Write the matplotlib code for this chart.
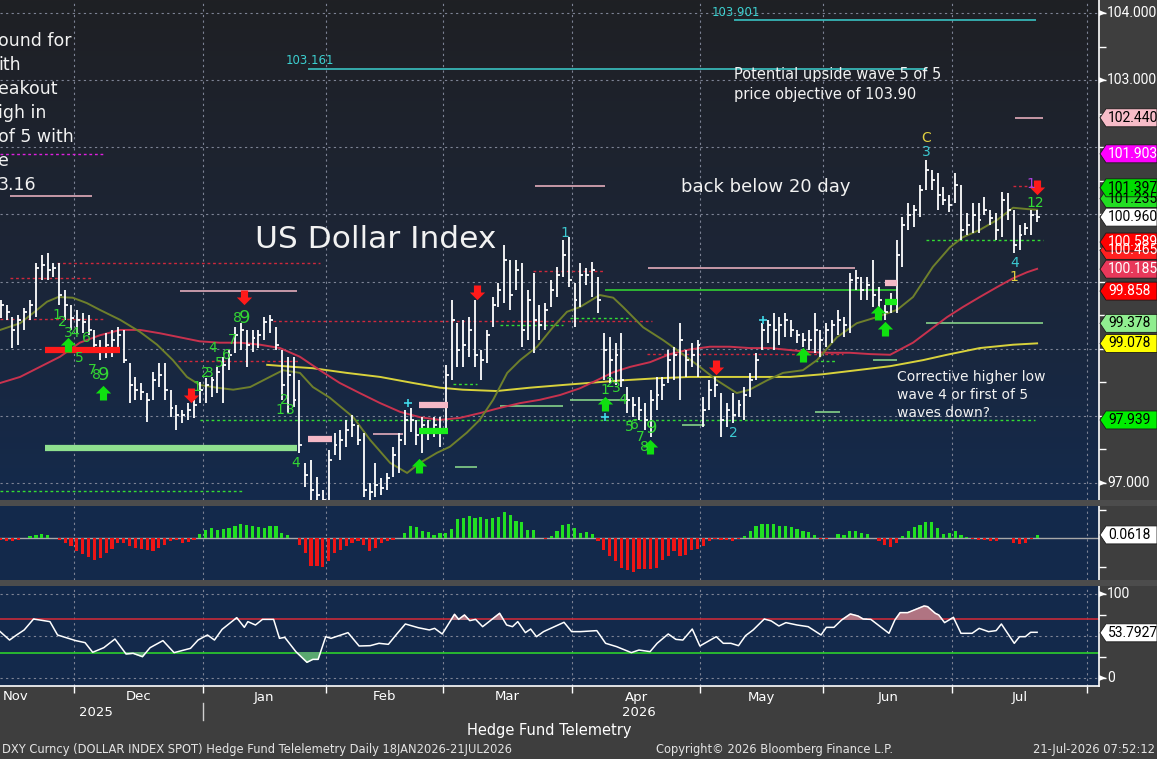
import numpy as np
import pandas as pd
import matplotlib
matplotlib.use('Agg')
import matplotlib.pyplot as plt
from matplotlib.patches import Polygon, Rectangle
from matplotlib.path import Path
from matplotlib.colors import LinearSegmentedColormap
from matplotlib.transforms import blended_transform_factory

plt.rcParams['font.family'] = ['DejaVu Sans']
NUM_FONT = ['Roboto', 'DejaVu Sans']   # narrower digits for the scale flags

# ---------------- data ----------------
holidays = ['2025-12-25', '2026-01-01']

# daily bars 12 Nov 2025 .. 21 Jul 2026 (one row per month in the source layout)
high = [99.73, 99.65, 99.47, 99.50, 99.61, 99.73, 100.28, 100.40, 100.43, 100.28, 100.28, 99.87, 99.65,
        99.58, 99.53, 99.50, 99.28, 99.13, 99.23, 99.28, 99.32, 99.28, 98.79, 98.58, 98.49, 98.34, 98.65, 98.79, 98.79, 98.39, 98.16, 98.09, 98.19, 98.24, 98.50,
        98.56, 98.58, 98.73, 98.88, 98.98, 99.32, 99.38, 99.28, 99.28, 99.28, 99.47, 99.50, 99.32, 98.98, 98.88, 98.88, 98.53, 97.30, 97.34, 97.09, 96.90,
        97.49, 97.75, 97.79, 97.94, 98.01, 97.86, 97.75, 97.00, 97.30, 97.07, 97.15, 97.54, 97.75, 98.09, 98.12, 97.94, 97.98, 97.94, 97.98, 97.98,
        98.76, 99.73, 99.38, 99.43, 99.47, 99.73, 98.98, 99.28, 99.77, 99.98, 100.55, 100.32, 100.32, 100.28, 99.87, 100.13, 99.65, 99.68, 100.02, 100.22, 100.62, 100.66,
        99.98, 100.28, 100.20, 100.29, 100.07, 99.23, 99.17, 99.09, 99.23, 98.43, 98.28, 98.28, 98.19, 98.39, 98.58, 98.58, 98.98, 99.03, 99.38, 98.98, 99.09, 99.13,
        98.28, 98.53, 98.58, 98.34, 98.19, 98.34, 98.24, 98.43, 98.64, 98.94, 99.38, 99.43, 99.53, 99.47, 99.53, 99.43, 99.28, 99.23, 99.28, 99.53, 99.28,
        99.38, 99.43, 99.58, 99.47, 100.13, 100.17, 100.07, 100.07, 100.32, 99.92, 99.65, 99.83, 100.62, 100.96, 101.17, 101.14, 101.44, 101.81, 101.66, 101.62, 101.41, 101.29,
        101.62, 101.44, 101.02, 101.17, 101.17, 101.26, 101.07, 101.02, 101.33, 101.32, 101.07, 100.84, 100.87, 101.07, 101.07]
low = [99.46, 99.43, 99.01, 99.06, 99.28, 99.43, 99.47, 100.02, 100.02, 100.07, 99.65, 99.43, 99.28,
       99.23, 99.23, 99.20, 98.94, 98.83, 98.86, 98.88, 98.95, 98.79, 98.19, 98.24, 98.24, 97.91, 98.24, 98.43, 98.24, 97.98, 97.79, 97.89, 97.94, 97.97, 98.19,
       98.19, 98.28, 98.34, 98.19, 98.68, 98.94, 98.98, 98.73, 98.95, 99.01, 99.13, 99.23, 98.98, 98.24, 98.04, 98.13, 97.45, 96.94, 96.75, 96.72, 96.67,
       96.75, 97.42, 97.34, 97.54, 97.69, 97.57, 96.79, 96.75, 96.79, 96.82, 96.90, 97.09, 97.15, 97.57, 97.76, 97.57, 97.45, 97.64, 97.69, 97.54,
       97.75, 98.53, 98.73, 98.73, 98.88, 98.73, 98.53, 98.79, 99.32, 99.62, 99.68, 99.58, 99.87, 99.03, 99.13, 98.94, 99.13, 99.28, 99.62, 99.77, 100.07, 99.92,
       99.32, 99.62, 99.95, 99.77, 99.53, 98.53, 98.49, 98.46, 98.43, 98.04, 97.98, 97.94, 97.79, 97.69, 98.09, 98.24, 98.49, 98.53, 98.24, 98.58, 98.73, 98.58,
       97.83, 98.09, 98.28, 97.69, 97.83, 97.89, 97.98, 97.94, 98.28, 98.53, 98.98, 99.09, 98.98, 99.06, 99.17, 99.17, 99.09, 99.03, 98.98, 98.94, 98.88,
       99.03, 99.09, 99.20, 99.17, 99.23, 99.87, 99.73, 99.73, 99.62, 99.53, 99.43, 99.53, 99.53, 100.22, 100.77, 100.81, 100.96, 101.36, 101.36, 101.07, 101.14, 101.04,
       101.17, 100.62, 100.69, 100.72, 100.72, 100.99, 100.84, 100.62, 100.66, 100.92, 100.43, 100.47, 100.69, 100.69, 100.89]
close = [99.65, 99.55, 99.28, 99.43, 99.55, 99.65, 100.20, 100.25, 100.17, 100.20, 99.80, 99.65, 99.46,
         99.43, 99.40, 99.28, 99.06, 98.98, 99.06, 99.13, 99.20, 98.83, 98.46, 98.39, 98.36, 98.24, 98.53, 98.61, 98.39, 98.12, 98.01, 98.01, 98.09, 98.16, 98.39,
         98.46, 98.53, 98.65, 98.76, 98.91, 99.20, 99.28, 99.06, 99.16, 99.20, 99.40, 99.43, 99.06, 98.46, 98.61, 98.24, 97.57, 97.12, 96.90, 96.82, 96.75,
         97.34, 97.57, 97.64, 97.79, 97.86, 97.64, 96.90, 96.87, 96.97, 96.93, 97.07, 97.42, 97.64, 97.94, 97.94, 97.72, 97.86, 97.76, 97.86, 97.79,
         98.61, 99.43, 98.98, 99.06, 99.28, 98.91, 98.83, 99.20, 99.65, 99.87, 100.32, 99.80, 100.17, 99.28, 99.73, 99.43, 99.35, 99.58, 99.87, 100.10, 100.40, 100.02,
         99.73, 100.10, 100.10, 100.17, 99.73, 98.98, 98.83, 98.91, 98.53, 98.24, 98.16, 98.09, 97.94, 98.24, 98.31, 98.46, 98.83, 98.91, 99.13, 98.83, 98.91, 99.06,
         98.09, 98.39, 98.46, 97.94, 98.09, 98.01, 98.16, 98.31, 98.53, 98.83, 99.28, 99.35, 99.28, 99.35, 99.43, 99.28, 99.20, 99.13, 99.13, 99.28, 99.13,
         99.28, 99.35, 99.43, 99.35, 100.02, 100.05, 99.87, 99.95, 99.80, 99.73, 99.55, 99.73, 100.40, 100.84, 100.99, 101.07, 101.36, 101.66, 101.51, 101.29, 101.22, 101.14,
         101.44, 100.77, 100.84, 100.99, 100.92, 101.07, 100.95, 100.77, 101.22, 101.07, 100.55, 100.69, 100.80, 100.99, 100.96]

macd_hist = [-0.04, -0.06, -0.06, -0.04, 0.0, 0.04, 0.06, 0.08, 0.06, 0.0, -0.04, -0.10, -0.16,
             -0.26, -0.32, -0.38, -0.44, -0.40, -0.30, -0.22, -0.10, -0.10, -0.16, -0.20, -0.22, -0.24, -0.26, -0.20, -0.14, -0.06, -0.04, -0.10, -0.08, -0.04, 0.08,
             0.16, 0.20, 0.16, 0.18, 0.20, 0.24, 0.28, 0.26, 0.24, 0.22, 0.20, 0.24, 0.24, 0.10, 0.06, 0.0, -0.14, -0.30, -0.56, -0.56, -0.58,
             -0.46, -0.30, -0.24, -0.16, -0.10, -0.06, -0.14, -0.26, -0.20, -0.10, -0.06, -0.04, 0.0, 0.10, 0.24, 0.22, 0.14, 0.12, 0.06, 0.10,
             0.10, 0.18, 0.38, 0.40, 0.44, 0.40, 0.42, 0.38, 0.40, 0.42, 0.52, 0.46, 0.34, 0.32, 0.16, 0.16, 0.0, -0.02, 0.04, 0.14, 0.26, 0.28,
             0.20, 0.10, 0.12, 0.08, -0.06, -0.24, -0.36, -0.46, -0.60, -0.64, -0.68, -0.62, -0.62, -0.62, -0.60, -0.44, -0.36, -0.26, -0.36, -0.34, -0.24, -0.22,
             -0.16, -0.06, -0.02, -0.04, -0.04, -0.06, -0.02, 0.04, 0.14, 0.24, 0.28, 0.28, 0.28, 0.24, 0.24, 0.22, 0.18, 0.14, 0.12, 0.06, -0.02,
             -0.02, 0.0, 0.08, 0.06, 0.14, 0.14, 0.10, 0.08, 0.0, -0.06, -0.14, -0.18, -0.10, 0.04, 0.14, 0.22, 0.26, 0.32, 0.32, 0.20, 0.08, 0.10,
             0.14, 0.06, 0.02, -0.02, -0.04, -0.04, -0.06, -0.06, 0.0, 0.0, -0.10, -0.12, -0.10, -0.02, 0.06]

# moving averages, read as points (x = trading-day number, 1 Dec 2025 = 0)
ma20_x = [-13.1, -9.7, -7.5, -5.1, -3.2, -0.7, 1.7, 3.9, 7.4, 10.8, 13.7, 16.4, 18.8, 21.0, 23.9, 26.7, 29.6, 32.5, 35.2, 38.1,
          40.3, 43.2, 47.2, 50.1, 53.5, 56.4, 58.6, 61.5, 63.7, 66.6, 68.8, 71.1, 73.5, 75.7, 78.6, 81.3, 83.7, 85.9, 89.3, 91.6,
          93.3, 96.7, 100.1, 103.0, 106.4, 109.3, 112.7, 114.9, 117.9, 120.6, 124.0, 126.4, 129.8, 133.2, 136.6, 140.1, 142.8, 146.2,
          149.1, 151.3, 154.2, 157.2, 159.9, 162.3, 164.0]
ma20_v = [99.28, 99.38, 99.53, 99.70, 99.77, 99.76, 99.68, 99.58, 99.43, 99.25, 99.06, 98.83, 98.58, 98.46, 98.42, 98.39, 98.43, 98.56, 98.68, 98.64,
          98.43, 98.27, 97.98, 97.64, 97.30, 97.15, 97.30, 97.45, 97.54, 97.75, 97.94, 98.24, 98.64, 98.83, 99.03, 99.32, 99.55, 99.62, 99.80, 99.76,
          99.62, 99.32, 99.13, 98.95, 98.73, 98.53, 98.34, 98.39, 98.53, 98.64, 98.68, 98.83, 99.17, 99.38, 99.47, 99.58, 99.77, 100.22,
          100.51, 100.66, 100.77, 100.92, 101.10, 101.08, 101.07]
ma50_x = [-13.1, -9.7, -6.3, -2.9, 0.5, 3.9, 7.4, 10.8, 14.2, 17.6, 21.0, 24.4, 27.9, 31.3, 34.7, 38.1, 41.5, 44.9, 48.3, 51.8,
          55.2, 58.6, 62.0, 65.4, 68.8, 72.3, 75.7, 79.1, 82.5, 85.9, 88.8, 91.6, 94.5, 97.9, 101.3, 104.7, 108.1, 111.5, 114.9, 118.4,
          121.8, 125.2, 128.6, 132.0, 135.5, 138.9, 142.8, 145.7, 148.6, 151.3, 154.2, 157.2, 159.9, 162.3, 164.0]
ma50_v = [98.49, 98.58, 98.73, 98.88, 99.09, 99.20, 99.28, 99.28, 99.23, 99.17, 99.11, 99.09, 99.09, 99.06, 99.01, 98.88, 98.68, 98.49, 98.34, 98.19,
          98.06, 97.98, 97.94, 97.97, 98.04, 98.12, 98.19, 98.24, 98.31, 98.41, 98.53, 98.65, 98.73, 98.80, 98.92, 98.99, 99.03, 99.03, 99.01, 99.01,
          98.98, 98.95, 98.94, 98.94, 98.92, 98.91, 99.09, 99.28, 99.47, 99.62, 99.77, 99.92, 100.05, 100.14, 100.19]
ma100_x = [32.5, 36.9, 40.3, 46.1, 51.8, 57.4, 62.0, 65.9, 71.7, 77.4, 83.0, 88.8, 93.3, 99.1, 104.7, 110.4, 116.1, 121.8, 127.4,
           133.2, 138.9, 144.5, 148.6, 154.2, 159.9, 164.0]
ma100_v = [98.76, 98.73, 98.71, 98.64, 98.58, 98.49, 98.42, 98.39, 98.37, 98.42, 98.46, 98.50, 98.53, 98.56, 98.58, 98.58, 98.58, 98.58, 98.62,
           98.68, 98.74, 98.83, 98.91, 99.01, 99.06, 99.08]

rsi_x = [-13.1, -11.5, -10.3, -9.0, -7.4, -4.6, -3.3, -0.2, 1.4, 2.7, 4.6, 6.5, 8.4, 9.6, 11.2, 12.5, 14.7, 16.6, 19.4, 20.7,
         22.3, 23.5, 24.8, 27.3, 28.6, 29.2, 30.5, 31.7, 33.6, 34.6, 35.5, 37.4, 39.3, 40.3, 41.2, 42.5, 43.4, 46.3, 48.2, 50.1,
         51.6, 53.2, 54.5, 56.1, 58.3, 60.2, 61.1, 62.4, 64.5, 65.2, 66.2, 67.1, 68.1, 69.3, 72.2, 73.4, 74.4, 75.3, 76.6, 77.5,
         78.5, 79.7, 83.2, 84.5, 86.0, 88.8, 90.3, 92.2, 94.7, 96.0, 97.9, 99.1, 101.0, 102.3, 103.5, 105.1, 106.4, 109.2, 110.4, 111.7,
         113.0, 114.2, 115.5, 117.4, 118.6, 119.9, 121.1, 123.0, 124.9, 127.1, 128.0, 129.3, 130.6, 132.1, 133.4, 134.3, 135.6, 138.7,
         139.7, 140.6, 141.9, 144.7, 145.3, 146.6, 147.2, 148.2, 149.7, 151.0, 152.9, 154.1, 155.7, 157.0, 157.9, 160.1, 161.0, 162.0,
         162.9, 164.0]
rsi_v = [55.2, 45.2, 51.2, 57.2, 70.2, 67.1, 51.2, 44.5, 42.1, 30.6, 36.1, 46.4, 28.6, 29.4, 25.4, 36.1, 44.5, 30.2, 35.3, 45.2,
         51.2, 45.2, 57.9, 71.8, 60.3, 67.1, 63.1, 69.8, 69.8, 47.2, 48.4, 31.4, 18.7, 22.2, 22.2, 49.2, 47.2, 54.0, 38.1, 38.5,
         41.3, 40.1, 51.2, 64.3, 59.9, 57.2, 59.1, 52.4, 75.8, 69.8, 75.0, 68.3, 69.8, 61.1, 77.0, 63.1, 61.1, 67.1, 54.0, 58.3,
         49.2, 55.2, 66.3, 55.2, 55.2, 56.4, 41.3, 37.3, 30.2, 33.3, 31.4, 41.3, 52.4, 46.0, 45.2, 58.3, 38.1, 49.2, 41.3, 41.3,
         38.5, 50.4, 57.2, 70.2, 67.9, 61.9, 65.9, 63.1, 61.1, 51.2, 60.3, 60.3, 69.0, 76.2, 73.8, 70.2, 69.8, 53.2,
         69.0, 77.8, 77.8, 85.7, 84.9, 77.0, 75.0, 65.9, 72.2, 53.2, 53.2, 59.1, 55.2, 56.4, 64.3, 41.3, 49.2, 49.2,
         54.4, 54.4]

# drawn study lines: (from day, to day, level)
cyan_lines = [(39.5, 145.2, 103.161), (112.2, 163.8, 103.901)]
pink_lines = [(-11.4, 2.6, 101.27), (78.2, 90.2, 101.42), (160.2, 165.0, 102.44), (17.6, 37.6, 99.86),
              (97.5, 132.9, 100.20), (50.6, 55.7, 97.73)]
pink_blocks = [(39.5, 43.6, 97.66), (58.4, 63.4, 98.16), (138.0, 140.1, 99.98)]
green_blocks = [(58.4, 63.4, 97.78), (138.0, 140.1, 99.70)]
lgreen_lines = [(145.0, 165.0, 99.378), (64.6, 68.3, 97.24), (126.1, 130.3, 98.06), (103.3, 107.3, 97.86),
                (136.0, 140.1, 98.83), (72.3, 83.0, 98.15), (84.2, 94.1, 98.24)]
green_dotted = [(-13.1, 28.4, 96.88), (21.0, 163.6, 97.939), (64.2, 68.3, 98.48), (72.3, 83.0, 99.36),
                (84.2, 94.1, 99.46), (145.0, 165.0, 100.62), (126.1, 129.8, 98.82)]
red_dotted = [(-11.4, 2.7, 100.05), (-3.4, 41.5, 100.28), (-13.1, 4.5, 99.44), (17.3, 38.1, 98.82),
              (33.5, 98.2, 99.41), (77.9, 90.2, 100.16), (97.4, 130.9, 98.92), (159.9, 164.0, 101.42)]
up_arrows = [(-1.5, 99.06), (4.5, 98.34), (58.4, 97.26), (90.2, 98.18), (97.9, 97.54), (124.0, 98.91), (136.8, 99.53), (138.0, 99.29)]
down_arrows = [(28.5, 99.77), (19.5, 98.31), (68.3, 99.85), (109.2, 98.73), (164.0, 101.41)]
plus_marks = [(56.6, 98.19), (90.2, 97.98), (117.2, 99.43)]

# sequential counts: (day, level, label)
td_counts = [(-3.4, 99.50, '1'), (-2.4, 99.40, '2'), (-1.5, 99.23, '3'), (-0.3, 99.23, '4'), (0.5, 98.86, '5'),
             (1.7, 99.16, '6'), (2.6, 98.68, '7'), (3.4, 98.61, '8'),
             (20.5, 98.43, '1'), (21.9, 98.64, '2'), (22.7, 98.64, '3'), (23.2, 99.01, '4'), (24.4, 98.79, '5'),
             (25.6, 98.91, '6'), (26.5, 99.13, '7'), (27.5, 99.46, '8'),
             (34.7, 98.09, '1'), (35.4, 98.24, '2'), (36.4, 98.09, '3'), (37.4, 97.30, '4'),
             (90.2, 98.39, '1'), (91.2, 98.49, '2'), (92.2, 98.42, '3'), (93.3, 98.24, '4'), (94.3, 97.83, '5'),
             (95.2, 97.86, '6'), (96.2, 97.69, '7'), (97.0, 97.54, '8')]
td_nines = [(4.5, 98.61), (28.7, 99.46), (98.2, 97.82)]
wave_labels = [(112.2, 97.75, '2', '#3cc8d0'), (83.4, 100.72, '1', '#3cc8d0'), (145.0, 101.93, '3', '#3cc8d0'),
               (145.0, 102.14, 'C', '#e0d040'), (160.1, 100.28, '4', '#3cc8d0'), (160.1, 100.07, '1', '#e0d040'),
               (163.6, 101.17, '12', '#33dd33'), (162.9, 101.45, '1', '#b040e0')]

# value flags on the right-hand scale
price_tags = [(102.440, '102.440', '#f7bcc8', 'black'), (101.903, '101.903', '#ff00ff', 'white'),
              (101.235, '101.235', '#22dd22', 'black'), (101.397, '101.397', '#00dd00', 'black'),
              (100.960, '100.960', 'white', 'black'), (100.465, '100.465', '#ff2020', 'white'),
              (100.589, '100.589', '#ff0000', 'white'), (100.185, '100.185', '#e8385a', 'white'),
              (99.858, '99.858', '#ff0000', 'white'), (99.378, '99.378', '#90ee90', 'black'),
              (99.078, '99.078', '#ffff00', 'black'), (97.939, '97.939', '#00ee00', 'black')]
price_axis_labels = [104.0, 103.0, 97.0]

# ---------------- layout ----------------
W, H = 1157, 759
fig = plt.figure(figsize=(W / 100, H / 100), dpi=100, facecolor='#3e3e3e')


def fx(px):
    return px / W


def fy(py):
    return 1 - py / H


ax1 = fig.add_axes([0, fy(500), fx(1099), 500 / H])
ax2 = fig.add_axes([0, fy(580), fx(1099), 74 / H], sharex=ax1)
ax3 = fig.add_axes([0, fy(686), fx(1099), 100 / H], sharex=ax1)

days = pd.bdate_range('2025-11-03', '2026-07-31')
days = days[~days.isin(pd.to_datetime(holidays))]
pos = np.arange(len(days)) - 20          # 1 Dec 2025 -> 0
shown = (days >= '2025-11-12') & (days <= '2026-07-21')
xb = pos[shown]
high, low, close = map(np.array, (high, low, close))
macd_hist = np.array(macd_hist)
rsi_x, rsi_v = np.array(rsi_x), np.array(rsi_v)

per = days.to_period('M')
bounds = [pos[i] - 0.5 for i in range(1, len(days)) if per[i] != per[i - 1]] + [pos[-1] + 0.5]
centers = pd.Series(pos).groupby(per).mean()

ax1.set_xlim(-13.13, 174.57)
ax1.set_ylim(96.747, 104.194)
ax2.set_ylim(-0.84, 0.64)
ax3.set_ylim(-9.5, 109.5)

grid_kw = dict(color='#7d8395', lw=0.8, ls=(0, (2, 3)), zorder=1)

# background of the price pane: charcoal fading into navy
grad = LinearSegmentedColormap.from_list('bg', ['#1f2024', '#1c2536', '#142a4c'])
ax1.imshow(np.linspace(0, 1, 256).reshape(-1, 1), cmap=grad, aspect='auto',
           extent=[-13.13, 174.57, 96.747, 104.194], origin='upper', zorder=0)
for ax in (ax2, ax3):
    ax.set_facecolor('#13294b')

for ax in (ax1, ax2, ax3):
    for s in ax.spines.values():
        s.set_visible(False)
    ax.spines['right'].set_visible(True)
    ax.spines['right'].set_color('white')
    ax.spines['right'].set_linewidth(1.2)
    for b in bounds:
        ax.axvline(b, **grid_kw)
    ax.tick_params(axis='x', which='both', bottom=False, labelbottom=False)
    ax.yaxis.set_ticks_position('right')
    ax.tick_params(axis='y', which='both', left=False, labelleft=False, labelright=False,
                   color='white', length=5, direction='out', width=1)

for lvl in range(97, 105):
    ax1.axhline(lvl, **grid_kw)
ax1.set_yticks(np.arange(97, 104.01, 0.5))

# ---- price bars ----
ax1.vlines(xb, low, high, color='white', lw=1.3, zorder=5)
ax1.hlines(close, xb, xb + 0.5, color='white', lw=1.3, zorder=5)

ax1.plot(ma100_x, ma100_v, color='#d8d23c', lw=1.4, zorder=4)
ax1.plot(ma50_x, ma50_v, color='#c8324e', lw=1.4, zorder=4)
ax1.plot(ma20_x, ma20_v, color='#6e7f2c', lw=1.4, zorder=4)


def seg(x0, x1, y, color, lw=1.0, ls='-', z=3):
    ax1.plot([x0, x1], [y, y], color=color, lw=lw, ls=ls, zorder=z, solid_capstyle='butt')


for x0, x1, y in cyan_lines:
    seg(x0, x1, y, '#3ccfcf', 1.1)
for x0, x1, y in pink_lines:
    seg(x0, x1, y, '#f4b8c6', 1.1)
for x0, x1, y in lgreen_lines:
    seg(x0, x1, y, '#8fe08f', 1.1)
seg(90.2, 140.1, 99.87, '#33dd33', 1.1)
for x0, x1, y in green_dotted:
    seg(x0, x1, y, '#33dd33', 1.0, (0, (2, 2)))
for x0, x1, y in red_dotted:
    seg(x0, x1, y, '#d0283c', 1.0, (0, (2, 2)))
seg(-13.1, 4.5, 101.903, '#e020e0', 1.0, (0, (2, 2)))
seg(-5.4, 37.6, 97.52, '#8fe08f', 4.5)
seg(-5.4, 7.4, 98.98, '#ff1a1a', 4.5, z=6)
for x0, x1, y in pink_blocks:
    seg(x0, x1, y, '#f4b8c6', 4.5, z=6)
for x0, x1, y in green_blocks:
    seg(x0, x1, y, '#1aee1a', 4.5, z=6)

up = Path([(-0.28, -0.55), (0.28, -0.55), (0.28, 0.0), (0.6, 0.0), (0.0, 0.6), (-0.6, 0.0), (-0.28, 0.0), (-0.28, -0.55)])
down = Path([(-0.28, 0.55), (0.28, 0.55), (0.28, 0.0), (0.6, 0.0), (0.0, -0.6), (-0.6, 0.0), (-0.28, 0.0), (-0.28, 0.55)])
ax1.plot([p[0] for p in up_arrows], [p[1] for p in up_arrows], ls='none', marker=up, ms=11, color='#10e010', mew=0, zorder=7)
ax1.plot([p[0] for p in down_arrows], [p[1] for p in down_arrows], ls='none', marker=down, ms=11, color='#ff1a1a', mew=0, zorder=7)
ax1.plot([p[0] for p in plus_marks], [p[1] for p in plus_marks], ls='none', marker='+', ms=6, mew=1.2, color='#40d8e8', zorder=7)

for x, y, s in td_counts:
    ax1.text(x, y, s, color='#33d633', fontsize=10, ha='center', va='center', zorder=7)
for x, y in td_nines:
    ax1.text(x, y, '9', color='#33d633', fontsize=13, ha='center', va='center', zorder=7)
for x, y, s, c in wave_labels:
    ax1.text(x, y, s, color=c, fontsize=10, ha='center', va='center', zorder=7)

ax1.text(35.6, 103.30, '103.161', color='#3ccfcf', fontsize=8.5, ha='left', va='center', zorder=7)
ax1.text(108.5, 104.01, '103.901', color='#3ccfcf', fontsize=8.5, ha='left', va='center', zorder=7)

# commentary
txt = dict(color='#f2f2f2', zorder=8)
for i, line in enumerate(['ound for', 'ith', 'eakout', 'igh in', 'of 5 with', 'e', '3.16']):
    fig.text(fx(-2), fy(41 + 24 * i), line, fontsize=12.5, va='center', ha='left', **txt)
fig.text(fx(255), fy(240), 'US Dollar Index', fontsize=22.5, va='center', ha='left', **txt)
fig.text(fx(681), fy(187), 'back below 20 day', fontsize=13, va='center', ha='left', **txt)
fig.text(fx(734), fy(75), 'Potential upside wave 5 of 5', fontsize=10.5, va='center', ha='left', **txt)
fig.text(fx(734), fy(95), 'price objective of 103.90', fontsize=10.5, va='center', ha='left', **txt)
for i, line in enumerate(['Corrective higher low', 'wave 4 or first of 5', 'waves down?']):
    fig.text(fx(897), fy(377 + 18 * i), line, fontsize=10, va='center', ha='left', **txt)

# ---- MACD histogram ----
ax2.axhline(0, color='#a8a8a8', lw=1, zorder=2)
ax2.bar(xb, macd_hist, width=0.55, color=np.where(macd_hist >= 0, '#22e022', '#ee1515'), zorder=3)
ax2.set_yticks([-0.58, 0.56])

# ---- RSI ----
for lvl in (0, 50, 100):
    ax3.axhline(lvl, **grid_kw)
ax3.axhline(70, color='#c82a38', lw=1.2, zorder=2)
ax3.axhline(30, color='#2ccf2c', lw=1.2, zorder=2)
ax3.fill_between(rsi_x, rsi_v, 70, where=rsi_v >= 70, interpolate=True, color='#b07482', zorder=3)
ax3.fill_between(rsi_x, rsi_v, 30, where=rsi_v <= 30, interpolate=True, color='#5aa870', zorder=3)
ax3.plot(rsi_x, rsi_v, color='white', lw=1.1, zorder=4)
ax3.set_yticks([0, 25, 75, 100])
ax3.spines['bottom'].set_visible(True)
ax3.spines['bottom'].set_color('white')
ax3.spines['bottom'].set_linewidth(1.2)
ax3.set_xticks(bounds)
ax3.tick_params(axis='x', which='both', bottom=True, color='white', length=5, direction='out', width=1)

# pane separators
for y0 in (500, 580):
    fig.patches.append(Rectangle((0, fy(y0 + 6)), 1, 6 / H, transform=fig.transFigure,
                                 fc='#4c4c4c', ec='none', zorder=5))


# ---- right-hand scale flags ----
def fig_y(ax, val):
    return ax.transData.transform((0, val))[1] / (fig.dpi * fig.get_figheight())


def tag(ax, val, text, fc, tc):
    y, h = fig_y(ax, val), 9 / H
    pts = [(fx(1100), y), (fx(1106), y + h), (fx(1157), y + h), (fx(1157), y - h), (fx(1106), y - h)]
    fig.patches.append(Polygon(pts, closed=True, transform=fig.transFigure, fc=fc, ec='#1a1a1a', lw=0.6, zorder=10))
    fig.text(fx(1108), y, text, color=tc, fontsize=10, family=NUM_FONT, va='center', ha='left', zorder=11)


def axis_label(ax, val, text):
    y = fig_y(ax, val)
    pts = [(fx(1099), y + 3 / H), (fx(1106), y), (fx(1099), y - 3 / H)]
    fig.patches.append(Polygon(pts, closed=True, transform=fig.transFigure, fc='white', ec='none', zorder=10))
    fig.text(fx(1107), y, text, color='white', fontsize=10, family=NUM_FONT, va='center', ha='left', zorder=11)


for v in price_axis_labels:
    axis_label(ax1, v, f'{v:.3f}')
for v, t, fc, tc in price_tags:
    tag(ax1, v, t, fc, tc)
tag(ax2, 0.0618, '0.0618', 'white', 'black')
axis_label(ax3, 100, '100')
axis_label(ax3, 0, '0')
tag(ax3, rsi_v[-1] - 0.6, '53.7927', 'white', 'black')

# ---- time axis ----
tb = blended_transform_factory(ax3.transData, fig.transFigure)
for per_m, c in centers.items():
    fig.text(c, fy(697), per_m.strftime('%b'), transform=tb, color='white', fontsize=9.5, ha='center', va='center')
fig.text((-13.13 + 21.5) / 2 - 1, fy(712), '2025', transform=tb, color='white', fontsize=9.5, ha='center', va='center')
fig.text((21.5 + 174.57) / 2 - 2, fy(712), '2026', transform=tb, color='white', fontsize=9.5, ha='center', va='center')
fig.lines.append(plt.Line2D([fx(203), fx(203)], [fy(703), fy(720)], transform=fig.transFigure, color='#cfcfcf', lw=1))

fig.text(fx(549), fy(731), 'Hedge Fund Telemetry', color='white', fontsize=10.5, ha='center', va='center')
foot = dict(color='#e4e4e4', fontsize=8.3, va='center')
fig.text(fx(2), fy(750), 'DXY Curncy (DOLLAR INDEX SPOT) Hedge Fund Telelemetry Daily 18JAN2026-21JUL2026', ha='left', **foot)
fig.text(fx(774), fy(750), 'Copyright\u00a9 2026 Bloomberg Finance L.P.', ha='center', **foot)
fig.text(fx(1155), fy(750), '21-Jul-2026 07:52:12', ha='right', **foot)

fig.savefig('out.png', dpi=100, facecolor=fig.get_facecolor())
